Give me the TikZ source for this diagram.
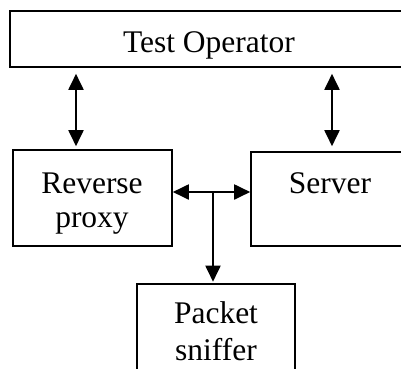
\documentclass[tikz,border=0pt]{standalone}
\usepackage{fontspec}
\setmainfont{Liberation Serif}
\usetikzlibrary{arrows.meta}
\begin{document}
\begin{tikzpicture}[x=1bp,y=-1bp,
  boxst/.style={draw=black,line width=1.6bp,inner sep=0pt,minimum width=#1},
  lbl/.style={anchor=base,inner sep=0pt,font=\fontsize{31.5bp}{34bp}\selectfont},
  conn/.style={line width=1.9bp,{Triangle[length=16bp,width=15bp]}-{Triangle[length=16bp,width=15bp]}},
  conn1/.style={line width=1.9bp,-{Triangle[length=16bp,width=15bp]}}]
\path[use as bounding box,clip] (0,0) rectangle (401,369);
\fill[white] (0,0) rectangle (401,369);
% boxes
\node[boxst=398bp,minimum height=56bp] (op) at (209,39) {};
\node[boxst=159bp,minimum height=96bp] (rp) at (92.5,198) {};
\node[boxst=158bp,minimum height=94bp] (srv) at (330,199) {};
\node[boxst=158bp,minimum height=120bp] (ps) at (216,344) {};
% labels
\node[lbl] (opt) at (209,52) {Test Operator};
\node[lbl] (rpt1) at (92,193) {Reverse};
\node[lbl] (rpt2) at (92,227) {proxy};
\node[lbl] (srvt) at (330,193) {Server};
\node[lbl] (pst1) at (216,323) {Packet};
\node[lbl] (pst2) at (216,360) {sniffer};
% connectors
\coordinate (xl) at (76,0);
\coordinate (xr) at (332,0);
\coordinate (jn) at (213,192);
\draw[conn,shorten <=6bp,shorten >=3bp] (op.south -| xl) -- (rp.north -| xl);
\draw[conn,shorten <=6bp,shorten >=5bp] (op.south -| xr) -- (srv.north -| xr);
\draw[conn] (rp.east |- jn) -- (srv.west |- jn);
\draw[conn1,shorten >=1.5bp] (jn) -- (ps.north -| jn);
\end{tikzpicture}
\end{document}
